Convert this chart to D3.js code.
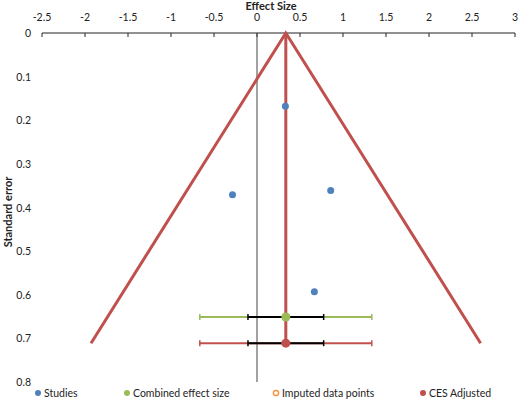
<!DOCTYPE html>
<html>
<head>
<meta charset="utf-8">
<script src="https://cdn.jsdelivr.net/npm/d3@7"></script>
<style>
  body { margin: 0; background: #fff; }
  text { font-family: Lato, "Open Sans", sans-serif; fill: #222; }
</style>
</head>
<body>
<div id="vis"></div>
<script>
// values
const xTicks = [-2.5, -2, -1.5, -1, -0.5, 0, 0.5, 1, 1.5, 2, 2.5, 3];
const yTicks = [0, 0.1, 0.2, 0.3, 0.4, 0.5, 0.6, 0.7, 0.8];
const studyEffect = [0.33, -0.285, 0.857, 0.667];
const studySE = [0.168, 0.371, 0.361, 0.593];
const combinedES = 0.335, combinedSE = 0.651;
const adjustedES = 0.335, adjustedSE = 0.711;
const ciOuter = [-0.665, 1.335];
const ciInner = [-0.105, 0.775];
const funnelX = [-1.93, 0.335, 2.6];
const funnelSE = [0.711, 0, 0.711];
const legendNames = ["Studies", "Combined effect size", "Imputed data points", "CES Adjusted"];

const width = 520, height = 399;
const blue = "#4f81bd", green = "#9bbb59", red = "#c0504d", orange = "#f79646";

const svg = d3.select("#vis").append("svg")
  .attr("width", width).attr("height", height);

const x = d3.scaleLinear().domain([-2.5, 3]).range([42, 515]);
const y = d3.scaleLinear().domain([0, 0.8]).range([33, 382]);

// top axis
svg.append("line")
  .attr("x1", x(-2.5)).attr("x2", x(3))
  .attr("y1", y(0)).attr("y2", y(0))
  .attr("stroke", "#222").attr("stroke-width", 1);
svg.selectAll(".xtick").data(xTicks).enter().append("line")
  .attr("x1", d => x(d)).attr("x2", d => x(d))
  .attr("y1", y(0)).attr("y2", y(0) + 4)
  .attr("stroke", "#222");
svg.selectAll(".xlab").data(xTicks).enter().append("text")
  .attr("x", d => x(d)).attr("y", 21)
  .attr("text-anchor", "middle").attr("font-size", 10.5)
  .text(d => d);
svg.append("text")
  .attr("x", 271).attr("y", 10)
  .attr("text-anchor", "middle").attr("font-size", 11).attr("font-weight", "bold")
  .text("Effect Size");

// y labels
svg.selectAll(".ylab").data(yTicks).enter().append("text")
  .attr("x", 31).attr("y", d => y(d) + 4)
  .attr("text-anchor", "end").attr("font-size", 10.5)
  .text(d => d);
svg.append("text")
  .attr("transform", "translate(12,212) rotate(-90)")
  .attr("text-anchor", "middle").attr("font-size", 11).attr("font-weight", "bold")
  .text("Standard error");

// vertical axis at zero
svg.append("line")
  .attr("x1", x(0)).attr("x2", x(0))
  .attr("y1", y(0)).attr("y2", y(0.8))
  .attr("stroke", "#444").attr("stroke-width", 1);

// funnel
const funnel = d3.line().x(d => x(d[0])).y(d => y(d[1]));
svg.append("path")
  .datum(funnelX.map((v, i) => [v, funnelSE[i]]))
  .attr("d", funnel)
  .attr("fill", "none").attr("stroke", red).attr("stroke-width", 3);
svg.append("line")
  .attr("x1", x(adjustedES)).attr("x2", x(adjustedES))
  .attr("y1", y(0)).attr("y2", y(adjustedSE))
  .attr("stroke", red).attr("stroke-width", 3);

// confidence intervals
function ci(se, col) {
  const g = svg.append("g");
  g.append("line")
    .attr("x1", x(ciOuter[0])).attr("x2", x(ciOuter[1]))
    .attr("y1", y(se)).attr("y2", y(se))
    .attr("stroke", col).attr("stroke-width", 2);
  ciOuter.forEach(v => g.append("line")
    .attr("x1", x(v)).attr("x2", x(v))
    .attr("y1", y(se) - 3).attr("y2", y(se) + 3)
    .attr("stroke", col).attr("stroke-width", 1.5));
  g.append("line")
    .attr("x1", x(ciInner[0])).attr("x2", x(ciInner[1]))
    .attr("y1", y(se)).attr("y2", y(se))
    .attr("stroke", "#000").attr("stroke-width", 2);
  ciInner.forEach(v => g.append("line")
    .attr("x1", x(v)).attr("x2", x(v))
    .attr("y1", y(se) - 3).attr("y2", y(se) + 3)
    .attr("stroke", "#000").attr("stroke-width", 1.5));
}
ci(combinedSE, green);
ci(adjustedSE, red);

svg.append("circle")
  .attr("cx", x(combinedES)).attr("cy", y(combinedSE)).attr("r", 4.5)
  .attr("fill", green);
svg.append("circle")
  .attr("cx", x(adjustedES)).attr("cy", y(adjustedSE)).attr("r", 4.5)
  .attr("fill", red);

// studies
svg.selectAll(".study").data(studyEffect).enter().append("circle")
  .attr("cx", d => x(d)).attr("cy", (d, i) => y(studySE[i])).attr("r", 3.5)
  .attr("fill", blue);

// legend
const legX = [38, 127, 276, 423];
const leg = svg.selectAll(".leg").data(legendNames).enter().append("g")
  .attr("transform", (d, i) => "translate(" + legX[i] + ",393)");
leg.append("circle")
  .attr("r", (d, i) => i === 2 ? 2.6 : 3)
  .attr("fill", (d, i) => [blue, green, "none", red][i])
  .attr("stroke", (d, i) => i === 2 ? orange : "none")
  .attr("stroke-width", 1.5);
leg.append("text")
  .attr("x", 6).attr("y", 4)
  .attr("font-size", 10.5)
  .text(d => d);
</script>
</body>
</html>
